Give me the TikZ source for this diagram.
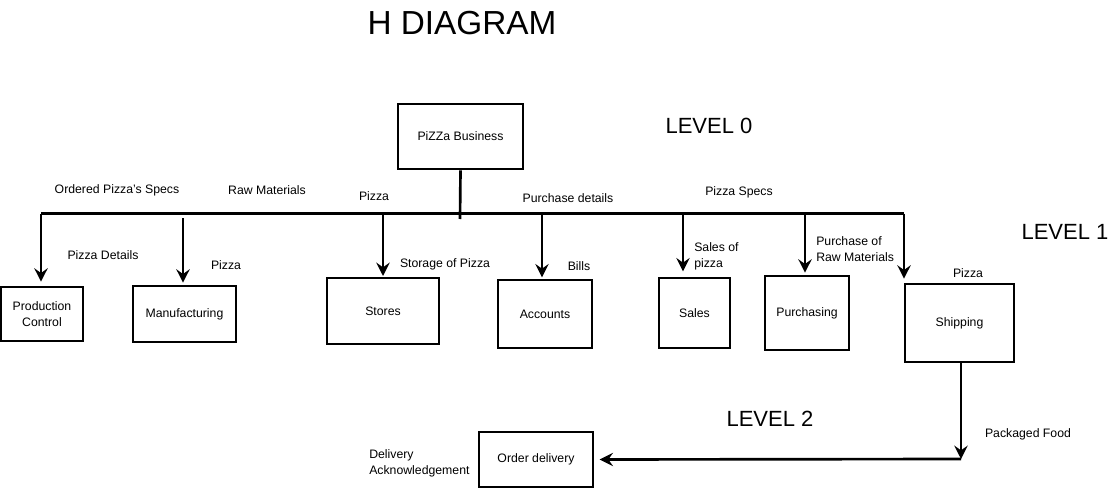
\documentclass[tikz,border=0pt]{standalone}
\usepackage{fontspec}
\setmainfont{Liberation Sans}
\usetikzlibrary{arrows.meta}
\begin{document}
\begin{tikzpicture}[x=0.75pt,y=-0.75pt,
  box/.style={draw,line width=2pt,inner sep=0pt,font=\fontsize{9.2}{12.2}\selectfont,align=center},
  lbl/.style={inner sep=0pt,font=\fontsize{9.2}{12.2}\selectfont},
  lvl/.style={inner sep=0pt,font=\fontsize{16.5}{19}\selectfont},
  conn/.style={line width=2pt},
  arr/.style={line width=2pt,-{Stealth[length=10pt,width=10pt,inset=3.5pt]}}]
\useasboundingbox (0,0) rectangle (1111,489);
\node[inner sep=0pt,font=\fontsize{25}{28}\selectfont] (title) at (462,23) {H DIAGRAM};
\node[box,minimum width=125*0.75pt,minimum height=65*0.75pt] (biz) at (460.5,136.5) {PiZZa Business};
\node[box,minimum width=82*0.75pt,minimum height=54*0.75pt] (pc) at (42,314) {Production\\Control};
\node[box,minimum width=103*0.75pt,minimum height=56*0.75pt] (mf) at (184.5,314) {Manufacturing};
\node[box,minimum width=112*0.75pt,minimum height=66*0.75pt] (st) at (383,311) {Stores};
\node[box,minimum width=94*0.75pt,minimum height=68*0.75pt] (ac) at (545,314) {Accounts};
\node[box,minimum width=71*0.75pt,minimum height=70*0.75pt] (sa) at (694.5,313) {Sales};
\node[box,minimum width=84*0.75pt,minimum height=74*0.75pt] (pu) at (807,313) {Purchasing};
\node[box,minimum width=109*0.75pt,minimum height=78*0.75pt] (sh) at (959.5,323) {Shipping};
\node[box,minimum width=114*0.75pt,minimum height=55*0.75pt] (od) at (536,459.5) {Order delivery};
% level labels
\node[lvl] (l0) at (709,126) {LEVEL 0};
\node[lvl] (l1) at (1065,232) {LEVEL 1};
\node[lvl] (l2) at (770,419) {LEVEL 2};
% bus
\coordinate (bl) at (41,213.5);
\coordinate (br) at (904,213.5);
\coordinate (bj) at (460,219);
\coordinate (bmf) at (183,218);
\coordinate (bst) at (383,213.5);
\coordinate (bac) at (542,213.5);
\coordinate (bsa) at (683,213.5);
\coordinate (bpu) at (805,213.5);
\coordinate (cor) at (961,459);
\draw[conn] (biz.south) -- (bj);
\draw[conn] (bl) -- (br);
\draw[arr,shorten >=3pt] (bl) -- (bl |- pc.north);
\draw[arr,shorten >=1.5pt] (bmf) -- (bmf |- mf.north);
\draw[arr,shorten >=0.5pt] (bst) -- (bst |- st.north);
\draw[arr,shorten >=1pt] (bac) -- (bac |- ac.north);
\draw[arr,shorten >=4pt] (bsa) -- (bsa |- sa.north);
\draw[arr,shorten >=1.5pt] (bpu) -- (bpu |- pu.north);
\draw[arr,shorten >=3pt] (br) -- (br |- sh.north);
\draw[arr] (cor |- sh.south) -- (cor);
\draw[arr,shorten >=4pt] (cor) -- (od.east);
% labels
\node[lbl] (t1) at (117,190) {Ordered Pizza's Specs};
\node[lbl] (t2) at (267,190) {Raw Materials};
\node[lbl] (t3) at (374,196) {Pizza};
\node[lbl] (t4) at (568,198) {Purchase details};
\node[lbl] (t5) at (739,192) {Pizza Specs};
\node[lbl] (t6) at (103,255) {Pizza Details};
\node[lbl] (t7) at (226,265) {Pizza};
\node[lbl] (t8) at (445,264) {Storage of Pizza};
\node[lbl] (t9) at (579,266) {Bills};
\node[lbl,anchor=west,align=left] (t10) at (694,256.5) {Sales of\\pizza};
\node[lbl,anchor=west,align=left] (t11) at (816,249) {Purchase of\\Raw Materials};
\node[lbl] (t12) at (968,273) {Pizza};
\node[lbl] (t13) at (1028,434) {Packaged Food};
\node[lbl,anchor=west,align=left] (t14) at (369,463) {Delivery\\Acknowledgement};
\end{tikzpicture}
\end{document}
